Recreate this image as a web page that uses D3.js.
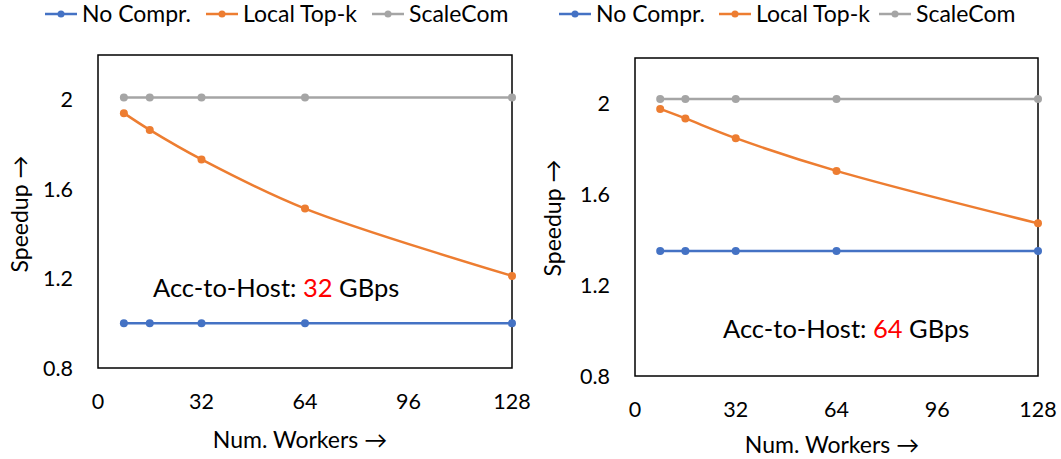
<!DOCTYPE html>
<html>
<head>
<meta charset="utf-8">
<script src="https://cdn.jsdelivr.net/npm/d3@7"></script>
<style>
  body { margin: 0; background: #fff; }
  svg text { font-family: Lato, "Open Sans", sans-serif; fill: #000; }
</style>
</head>
<body>
<div id="canvas"></div>
<script>
// data
var workers = [8, 16, 32, 64, 128];
var xTicks = [0, 32, 64, 96, 128];
var yTicks = [0.8, 1.2, 1.6, 2];
var seriesNames = ["No Compr.", "Local Top-k", "ScaleCom"];
var seriesColors = ["#4472C4", "#ED7D31", "#A5A5A5"];

// Acc-to-Host 32 GBps
var noCompr32 = [1.0, 1.0, 1.0, 1.0, 1.0];
var topk32 = [1.94, 1.865, 1.733, 1.513, 1.212];
var scaleCom32 = [2.01, 2.01, 2.01, 2.01, 2.01];

// Acc-to-Host 64 GBps
var noCompr64 = [1.35, 1.35, 1.35, 1.35, 1.35];
var topk64 = [1.976, 1.934, 1.847, 1.703, 1.472];
var scaleCom64 = [2.02, 2.02, 2.02, 2.02, 2.02];

var width = 1061, height = 459;

var svg = d3.select("div#canvas").append("svg")
  .attr("width", width)
  .attr("height", height);

var panels = [
  { box: [98, 55, 512, 368], bw: "32", series: [noCompr32, topk32, scaleCom32],
    note: [153, 297], legendX: [45, 206, 372], ytitle: [20, 214], xtitle: [300, 440] },
  { box: [635, 58, 1038, 376], bw: "64", series: [noCompr64, topk64, scaleCom64],
    note: [723, 338], legendX: [559, 719, 879], ytitle: [553, 218], xtitle: [832, 445] }
];

function drawPanel(p) {
  var g = svg.append("g");
  var x = d3.scaleLinear().domain([0, 128]).range([p.box[0], p.box[2]]);
  var y = d3.scaleLinear().domain([0.8, 2.2]).range([p.box[3], p.box[1]]);

  // plot frame
  g.append("rect")
    .attr("x", p.box[0]).attr("y", p.box[1])
    .attr("width", p.box[2] - p.box[0]).attr("height", p.box[3] - p.box[1])
    .attr("fill", "none").attr("stroke", "#000").attr("stroke-width", 1.5);

  // tick labels
  g.selectAll(".xt").data(xTicks).enter().append("text")
    .attr("x", function(d) { return x(d); })
    .attr("y", p.box[3] + 41)
    .attr("text-anchor", "middle")
    .style("font-size", "21.5px")
    .text(function(d) { return d; });

  g.selectAll(".yt").data(yTicks).enter().append("text")
    .attr("x", p.box[0] - 25)
    .attr("y", function(d) { return y(d) + 7.5; })
    .attr("text-anchor", "end")
    .style("font-size", "21.5px")
    .text(function(d) { return d; });

  // axis titles
  g.append("text")
    .attr("x", p.xtitle[0]).attr("y", p.xtitle[1] + 8)
    .attr("text-anchor", "middle")
    .style("font-size", "23px")
    .text("Num. Workers \u2192");

  g.append("text")
    .attr("transform", "translate(" + (p.ytitle[0] + 8) + "," + p.ytitle[1] + ") rotate(-90)")
    .attr("text-anchor", "middle")
    .style("font-size", "23px")
    .text("Speedup \u2192");

  // series
  p.series.forEach(function(vals, si) {
    var pts = workers.map(function(w, i) { return [w, vals[i]]; });
    var line = d3.line()
      .x(function(d) { return x(d[0]); })
      .y(function(d) { return y(d[1]); })
      .curve(si === 1 ? d3.curveCatmullRom.alpha(0.5) : d3.curveLinear);
    g.append("path")
      .attr("d", line(pts))
      .attr("fill", "none")
      .attr("stroke", seriesColors[si])
      .attr("stroke-width", 2.5);
    g.selectAll(".m" + si).data(pts).enter().append("circle")
      .attr("cx", function(d) { return x(d[0]); })
      .attr("cy", function(d) { return y(d[1]); })
      .attr("r", 4)
      .attr("fill", seriesColors[si]);
  });

  // legend
  seriesNames.forEach(function(name, si) {
    var lx = p.legendX[si];
    g.append("line")
      .attr("x1", lx).attr("x2", lx + 32)
      .attr("y1", 14).attr("y2", 14)
      .attr("stroke", seriesColors[si]).attr("stroke-width", 2.5);
    g.append("circle")
      .attr("cx", lx + 16).attr("cy", 14).attr("r", 3.5)
      .attr("fill", seriesColors[si]);
    g.append("text")
      .attr("x", lx + 37).attr("y", 22)
      .style("font-size", "23px")
      .text(name);
  });

  // annotation
  var note = g.append("text")
    .attr("x", p.note[0]).attr("y", p.note[1])
    .style("font-size", "25.5px");
  note.append("tspan").text("Acc-to-Host: ");
  note.append("tspan").style("fill", "#FF0000").text(p.bw);
  note.append("tspan").text(" GBps");
}

panels.forEach(drawPanel);
</script>
</body>
</html>
